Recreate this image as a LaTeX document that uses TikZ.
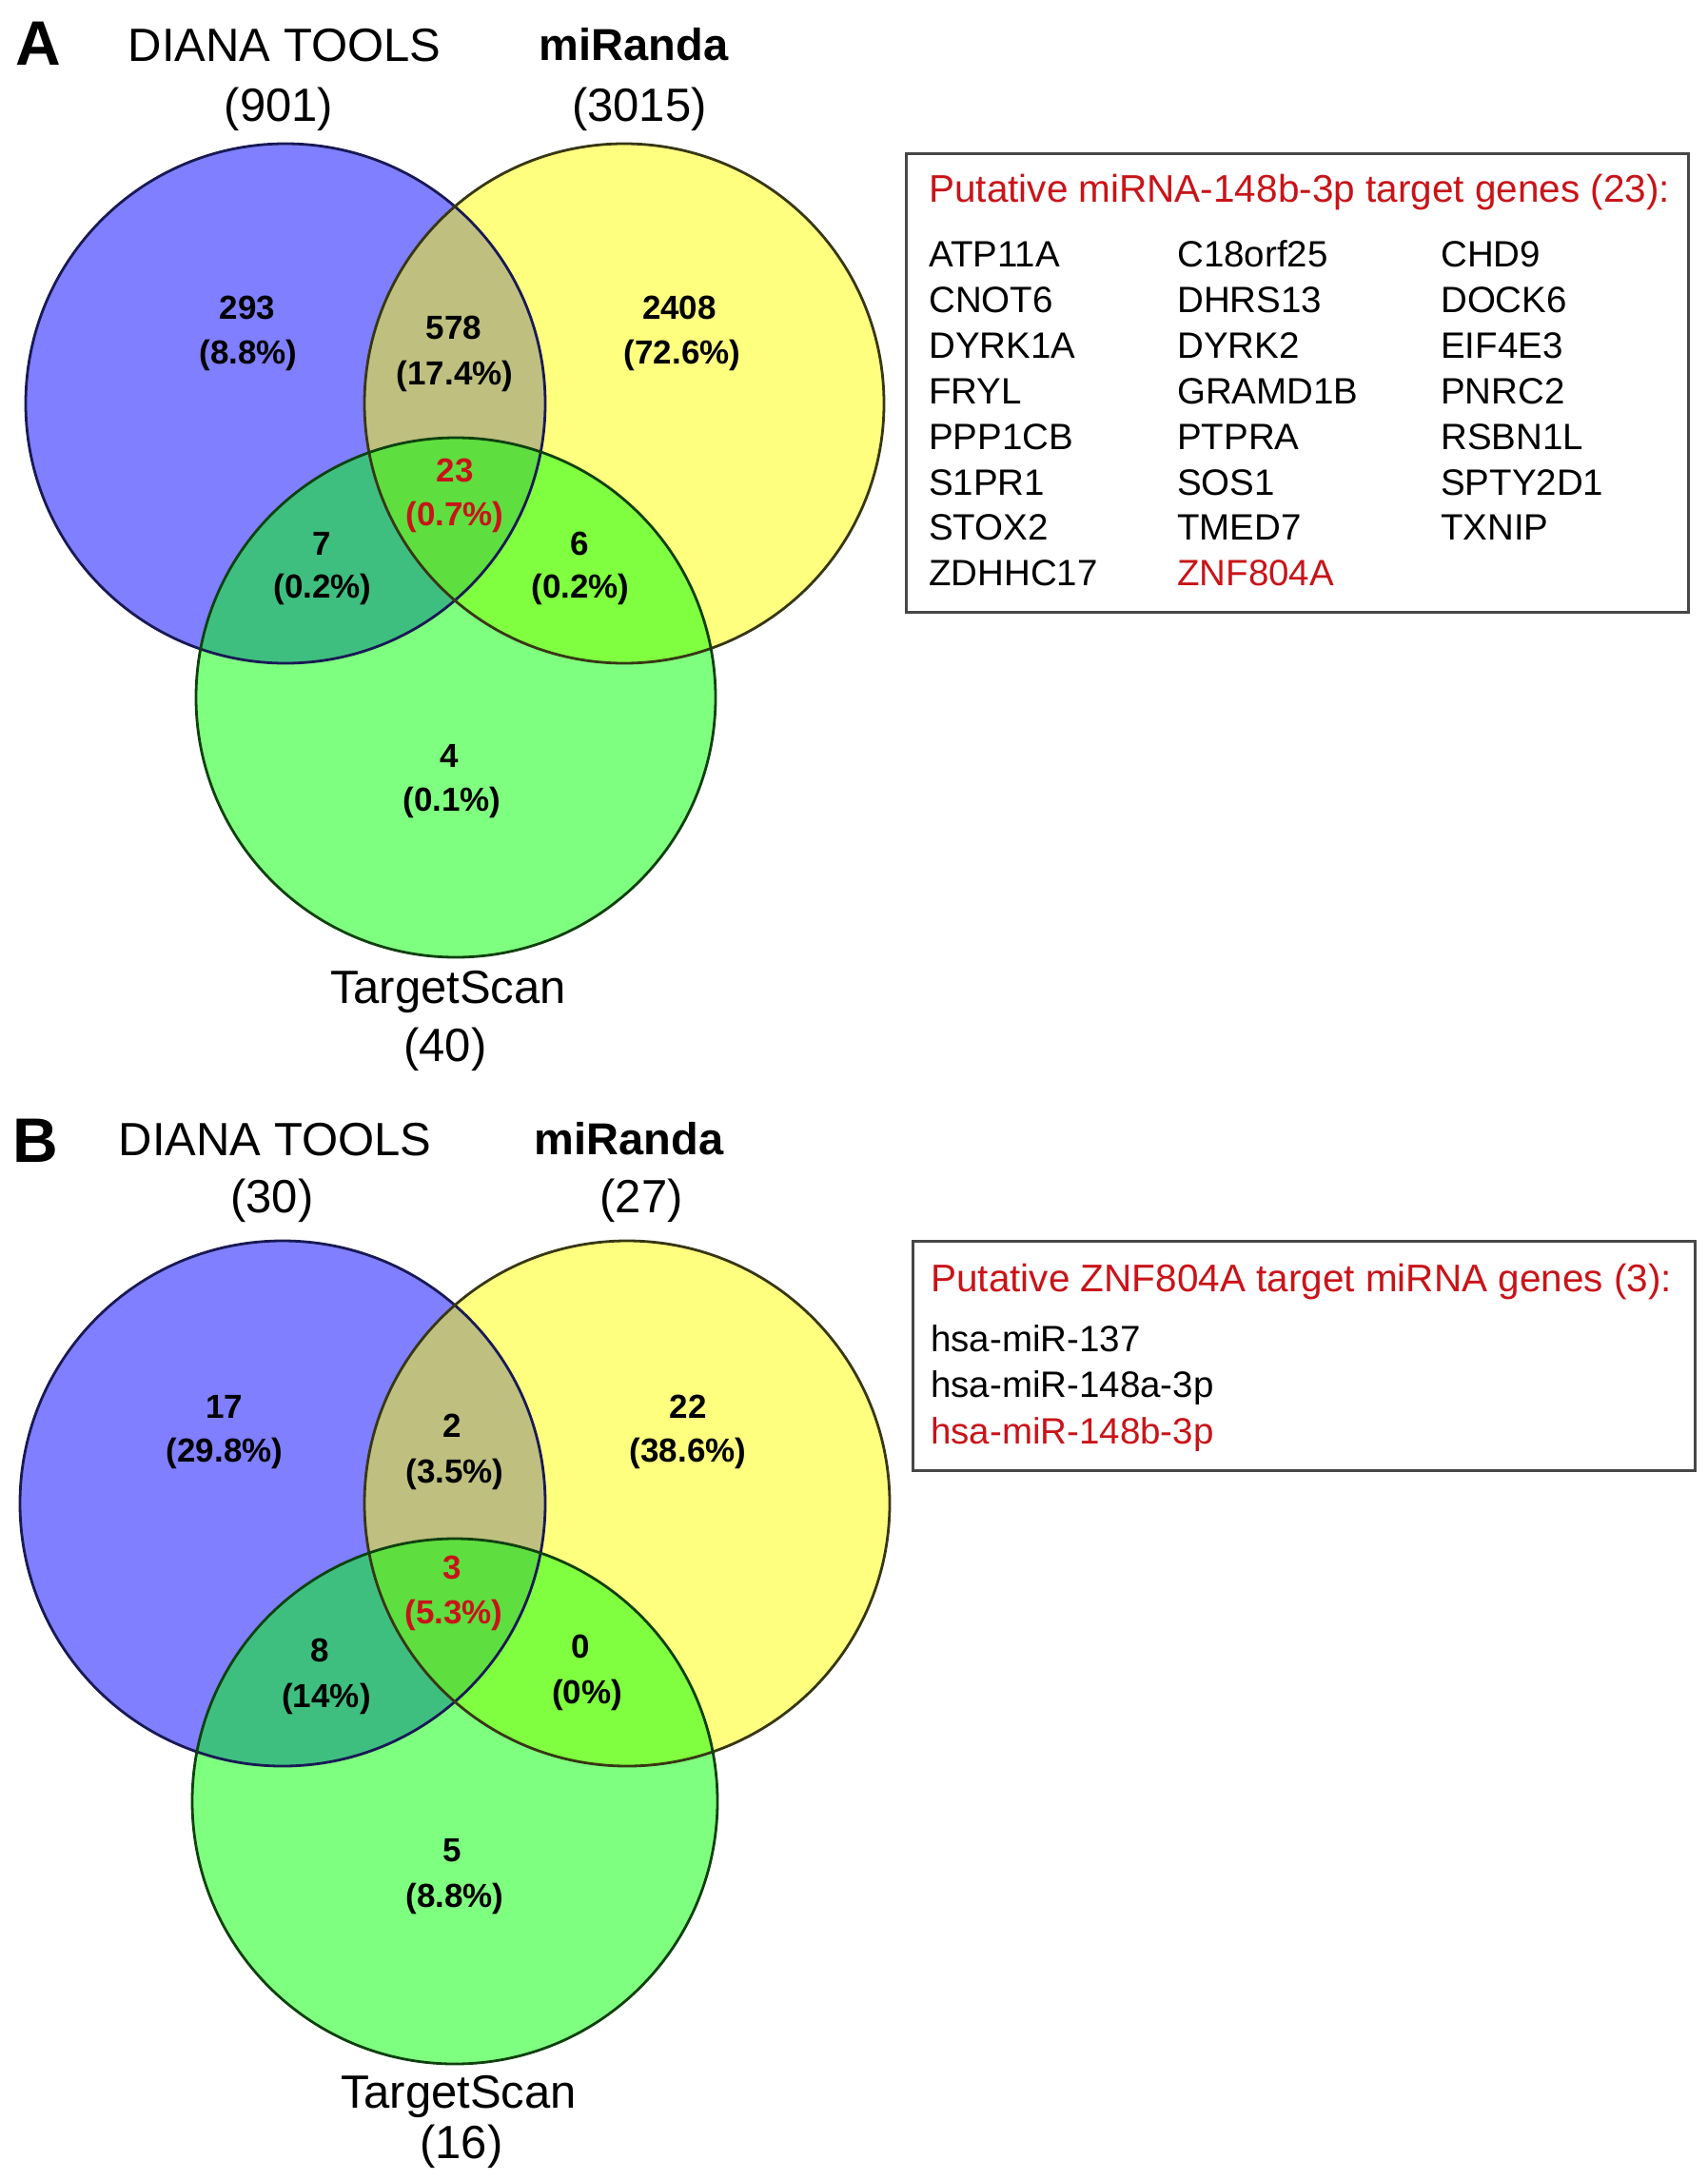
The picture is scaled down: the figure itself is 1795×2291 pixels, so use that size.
\documentclass[tikz,border=0pt]{standalone}
\usepackage{fontspec}
\setmainfont{Liberation Sans}
\definecolor{txtred}{RGB}{200,20,25}
\definecolor{vblue}{RGB}{0,0,255}
\definecolor{vyellow}{RGB}{255,255,0}
\definecolor{vgreen}{RGB}{0,255,0}
\definecolor{lblue}{RGB}{25,25,85}
\definecolor{lyellow}{RGB}{55,55,20}
\definecolor{lgreen}{RGB}{15,65,15}
\begin{document}
\begin{tikzpicture}[x=1pt,y=1pt,
  panel/.style={font=\fontsize{66}{70}\selectfont\bfseries, inner sep=0pt, text height=47pt, text depth=0pt, anchor=west},
  head/.style={font=\fontsize{49}{56}\selectfont, inner sep=0pt, text height=35pt, text depth=0pt},
  headb/.style={font=\fontsize{47}{54}\selectfont\bfseries, inner sep=0pt, text height=34pt, text depth=0pt},
  num/.style={font=\fontsize{35}{40}\selectfont\bfseries, inner sep=0pt, text height=25pt, text depth=0pt},
  rnum/.style={num, text=txtred},
  gene/.style={font=\fontsize{38.5}{44}\selectfont, inner sep=0pt, text height=27.5pt, text depth=0pt, anchor=west},
  ttl/.style={font=\fontsize{40.5}{46}\selectfont, text=txtred, inner sep=0pt, text height=29pt, text depth=0pt, anchor=west},
  setfill/.style={fill=#1, fill opacity=0.5},
  setline/.style={draw=#1, line width=2.8pt},
  listbox/.style={draw=black!72, line width=3pt, inner sep=0pt, anchor=north west}
]
\useasboundingbox (0,0) rectangle (1795,-2291);

% ---------------- Panel A ----------------
\fill[setfill=vblue]   (300,-424) circle[radius=273pt];
\fill[setfill=vyellow] (656,-424) circle[radius=273pt];
\fill[setfill=vgreen]  (479,-733) circle[radius=273pt];
\draw[setline=lblue]   (300,-424) circle[radius=273pt];
\draw[setline=lyellow] (656,-424) circle[radius=273pt];
\draw[setline=lgreen]  (479,-733) circle[radius=273pt];

\node[panel] (pA) at (16,-45.5) {A};
\node[head] (dA) at (299,-46.5) {DIANA TOOLS};
\node[head] (dAn) at (293,-110) {(901)};
\node[headb] (mA) at (666,-46.5) {miRanda};
\node[head] (mAn) at (672,-110) {(3015)};
\node[head] (tA) at (471,-1037) {TargetScan};
\node[head] (tAn) at (468,-1098) {(40)};

\node[num] (a1) at (260,-323) {293};
\node[num] (a1p) at (261,-370) {(8.8\%)};
\node[num] (a2) at (477,-344) {578};
\node[num] (a2p) at (478,-392) {(17.4\%)};
\node[num] (a3) at (714,-323) {2408};
\node[num] (a3p) at (717,-370) {(72.6\%)};
\node[rnum] (a4) at (478,-494) {23};
\node[rnum] (a4p) at (478,-540) {(0.7\%)};
\node[num] (a5) at (338,-571) {7};
\node[num] (a5p) at (339,-616) {(0.2\%)};
\node[num] (a6) at (609,-571) {6};
\node[num] (a6p) at (610,-616) {(0.2\%)};
\node[num] (a7) at (472,-794) {4};
\node[num] (a7p) at (475,-840) {(0.1\%)};

\node[listbox, minimum width=822pt, minimum height=482pt] (boxA) at (951,-160) {};
\node[ttl] (ttlA) at (976,-198) {Putative miRNA-148b-3p target genes (23):};
\foreach \r/\ya/\ga/\gb/\gc in {1/267/ATP11A/C18orf25/CHD9,
                                2/315/CNOT6/DHRS13/DOCK6,
                                3/363/DYRK1A/DYRK2/EIF4E3,
                                4/411/FRYL/GRAMD1B/PNRC2,
                                5/459/PPP1CB/PTPRA/RSBN1L,
                                6/507/S1PR1/SOS1/SPTY2D1,
                                7/554/STOX2/TMED7/TXNIP}{
  \node[gene] (g\r a) at (976,-\ya) {\ga};
  \node[gene] (g\r b) at (1237,-\ya) {\gb};
  \node[gene] (g\r c) at (1514,-\ya) {\gc};
}
\node[gene] (g8a) at (976,-602) {ZDHHC17};
\node[gene, text=txtred] (g8b) at (1237,-602) {ZNF804A};

% ---------------- Panel B ----------------
\fill[setfill=vblue]   (297,-1580) circle[radius=276pt];
\fill[setfill=vyellow] (659,-1580) circle[radius=276pt];
\fill[setfill=vgreen]  (478,-1893) circle[radius=276pt];
\draw[setline=lblue]   (297,-1580) circle[radius=276pt];
\draw[setline=lyellow] (659,-1580) circle[radius=276pt];
\draw[setline=lgreen]  (478,-1893) circle[radius=276pt];

\node[panel] (pB) at (13,-1198) {B};
\node[head] (dB) at (289,-1196.5) {DIANA TOOLS};
\node[head] (dBn) at (286,-1257) {(30)};
\node[headb] (mB) at (661,-1196.5) {miRanda};
\node[head] (mBn) at (674,-1257) {(27)};
\node[head] (tB) at (482,-2198) {TargetScan};
\node[head] (tBn) at (485,-2251) {(16)};

\node[num] (b1) at (236,-1478) {17};
\node[num] (b1p) at (236,-1524) {(29.8\%)};
\node[num] (b2) at (475,-1498) {2};
\node[num] (b2p) at (478,-1546) {(3.5\%)};
\node[num] (b3) at (723,-1478) {22};
\node[num] (b3p) at (723,-1524) {(38.6\%)};
\node[rnum] (b4) at (475,-1647) {3};
\node[rnum] (b4p) at (477,-1694) {(5.3\%)};
\node[num] (b5) at (336,-1734) {8};
\node[num] (b5p) at (343,-1782) {(14\%)};
\node[num] (b6) at (610,-1730) {0};
\node[num] (b6p) at (617,-1778) {(0\%)};
\node[num] (b7) at (475,-1944) {5};
\node[num] (b7p) at (478,-1992) {(8.8\%)};

\node[listbox, minimum width=822pt, minimum height=241pt] (boxB) at (958,-1303) {};
\node[ttl] (ttlB) at (978,-1343) {Putative ZNF804A target miRNA genes (3):};
\node[gene] (h1) at (978,-1407) {hsa-miR-137};
\node[gene] (h2) at (978,-1455) {hsa-miR-148a-3p};
\node[gene, text=txtred] (h3) at (978,-1504) {hsa-miR-148b-3p};
\end{tikzpicture}
\end{document}
